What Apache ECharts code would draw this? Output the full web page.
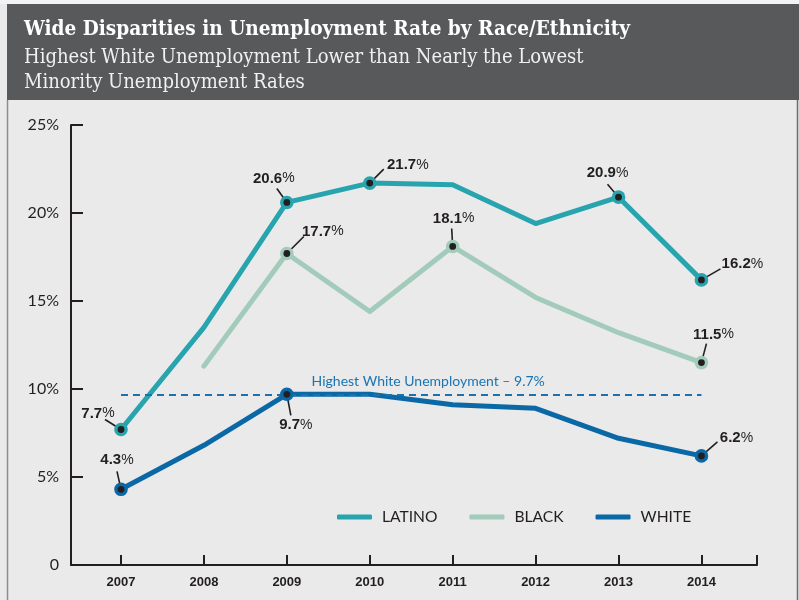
<!DOCTYPE html>
<html>
<head>
<meta charset="utf-8">
<script src="https://cdn.jsdelivr.net/npm/echarts@6/dist/echarts.min.js"></script>
<style>
  html, body { margin: 0; padding: 0; background: #e9eae9; }
  #chart { width: 799px; height: 600px; }
</style>
</head>
<body>
<div id="chart"></div>
<script>
// Unemployment rate (%) by race/ethnicity, 2007–2014
const years = [2007, 2008, 2009, 2010, 2011, 2012, 2013, 2014];
const latino = [7.7, 13.5, 20.6, 21.7, 21.6, 19.4, 20.9, 16.2];
const black = [null, 11.3, 17.7, 14.4, 18.1, 15.2, 13.2, 11.5];
const white = [4.3, 6.8, 9.7, 9.7, 9.1, 8.9, 7.2, 6.2];
const yTicks = [0, 5, 10, 15, 20, 25];

const seriesNames = ['LATINO', 'BLACK', 'WHITE'];
const seriesValues = { LATINO: latino, BLACK: black, WHITE: white };
const colors = { LATINO: '#28a4af', BLACK: '#a2cbbb', WHITE: '#0b68a6' };

// Which points get a value callout, and where the leader line / label sit (px offsets)
const callouts = [
  { s: 'LATINO', i: 0, lead: [-16, -10], text: [-23, -16] },
  { s: 'WHITE',  i: 0, lead: [-4, -18],  text: [-4, -29] },
  { s: 'LATINO', i: 2, lead: [-10, -14], text: [-13, -24] },
  { s: 'BLACK',  i: 2, lead: [17, -17],  text: [36, -22] },
  { s: 'WHITE',  i: 2, lead: [4, 21],    text: [9, 31] },
  { s: 'LATINO', i: 3, lead: [14, -14],  text: [38, -18] },
  { s: 'BLACK',  i: 4, lead: [-1, -18],  text: [1, -28] },
  { s: 'LATINO', i: 6, lead: [-11, -13], text: [-11, -24] },
  { s: 'LATINO', i: 7, lead: [19, -11],  text: [41, -16] },
  { s: 'BLACK',  i: 7, lead: [5, -19],   text: [12, -28] },
  { s: 'WHITE',  i: 7, lead: [16, -14],  text: [35, -18] }
];

const whiteMax = Math.max(...white);
const xMin = 2006.397, xMax = 2014.67;
const ink = '#231f20';
const calloutFont = '"Liberation Sans", Arial, sans-serif';

const lineSeries = seriesNames.map(name => ({
  name: name,
  type: 'line',
  data: years.map((y, k) => [y, seriesValues[name][k]]),
  showSymbol: false,
  symbol: 'none',
  connectNulls: false,
  lineStyle: { color: colors[name], width: 5, cap: 'round', join: 'round' },
  itemStyle: { color: colors[name] },
  z: name === 'WHITE' ? 4 : (name === 'LATINO' ? 3 : 2)
}));

// dashed reference at the highest white rate
lineSeries[2].markLine = {
  silent: true,
  symbol: 'none',
  data: [[{ coord: [years[0], whiteMax] }, { coord: [years[years.length - 1], whiteMax] }]],
  lineStyle: { color: '#1b70ae', width: 2, type: [7, 5] },
  label: {
    show: true,
    position: 'insideMiddleTop',
    distance: 6,
    padding: [0, 0, 0, 34],
    formatter: 'Highest White Unemployment – ' + whiteMax.toFixed(1) + '%',
    color: '#1a74b3',
    fontFamily: 'Lato',
    fontSize: 14
  }
};

const calloutSeries = {
  type: 'custom',
  coordinateSystem: 'cartesian2d',
  clip: false,
  z: 10,
  silent: true,
  encode: { x: 0, y: 1 },
  data: callouts.map((c, k) => [years[c.i], seriesValues[c.s][c.i], k]),
  renderItem: function (params, api) {
    const c = callouts[api.value(2)];
    const v = api.value(1);
    const p = api.coord([api.value(0), v]);
    return {
      type: 'group',
      children: [
        { type: 'line', shape: { x1: p[0], y1: p[1], x2: p[0] + c.lead[0], y2: p[1] + c.lead[1] },
          style: { stroke: ink, lineWidth: 1.6 } },
        { type: 'circle', shape: { cx: p[0], cy: p[1], r: 6.8 }, style: { fill: colors[c.s] } },
        { type: 'circle', shape: { cx: p[0], cy: p[1], r: 3.4 }, style: { fill: ink } },
        { type: 'text', x: p[0] + c.text[0], y: p[1] + c.text[1],
          style: {
            text: '{n|' + v.toFixed(1) + '}{p|%}',
            align: 'center', verticalAlign: 'middle',
            rich: {
              n: { fontFamily: calloutFont, fontWeight: 'bold', fontSize: 15, fill: ink },
              p: { fontFamily: calloutFont, fontWeight: 'normal', fontSize: 14, fill: ink }
            }
          } }
      ]
    };
  }
};

const chart = echarts.init(document.getElementById('chart'), null, { renderer: 'canvas' });
chart.setOption({
  animation: false,
  backgroundColor: '#e9eae9',
  title: {
    text: 'Wide Disparities in Unemployment Rate by Race/Ethnicity',
    subtext: 'Highest White Unemployment Lower than Nearly the Lowest\nMinority Unemployment Rates',
    left: 19, top: 14, itemGap: 5,
    textStyle: { color: '#ffffff', fontFamily: 'DejaVu Serif Condensed', fontWeight: 'bold', fontSize: 20.6 },
    subtextStyle: { color: '#f1f1f1', fontFamily: 'DejaVu Serif Condensed', fontWeight: 'normal', fontSize: 20, lineHeight: 25 }
  },
  graphic: [
    { type: 'rect', z: -10, shape: { x: 0, y: 0, width: 799, height: 4 }, style: { fill: '#f3f3f3' } },
    { type: 'rect', z: -10, shape: { x: 7, y: 4, width: 792, height: 96 }, style: { fill: '#58595b' } },
    { type: 'line', z: -10, shape: { x1: 7.5, y1: 100, x2: 7.5, y2: 600 }, style: { stroke: '#8d8e8e', lineWidth: 1.5 } },
    { type: 'line', z: -10, shape: { x1: 797.5, y1: 100, x2: 797.5, y2: 600 }, style: { stroke: '#6d6e6e', lineWidth: 1.5 } }
  ],
  legend: {
    data: seriesNames,
    left: 332, top: 504,
    icon: 'roundRect',
    itemWidth: 35, itemHeight: 5,
    itemGap: 32,
    formatter: name => '{t|' + name + '}',
    textStyle: {
      rich: { t: { fontFamily: 'Lato', fontSize: 15.6, color: ink, padding: [0, 0, 0, 5] } }
    }
  },
  grid: { left: 71, right: 42, top: 125, bottom: 35, containLabel: false },
  xAxis: {
    type: 'value',
    min: xMin, max: xMax,
    axisLine: { show: true, lineStyle: { color: ink, width: 2 } },
    axisTick: { show: true, inside: true, length: 10, lineStyle: { color: ink, width: 2 },
      customValues: years.concat([xMax]) },
    axisLabel: { customValues: years, formatter: v => String(v), margin: 11,
      color: ink, fontFamily: 'Liberation Sans', fontWeight: 'bold', fontSize: 13 },
    splitLine: { show: false }
  },
  yAxis: {
    type: 'value',
    min: yTicks[0], max: yTicks[yTicks.length - 1], interval: 5,
    axisLine: { show: true, lineStyle: { color: ink, width: 2 } },
    axisTick: { show: true, inside: true, length: 12, lineStyle: { color: ink, width: 2 } },
    axisLabel: { formatter: v => (v === 0 ? '0' : v + '%'), margin: 12,
      color: ink, fontFamily: 'Lato', fontSize: 16 },
    splitLine: { show: false }
  },
  series: lineSeries.concat([calloutSeries])
});
</script>
</body>
</html>
